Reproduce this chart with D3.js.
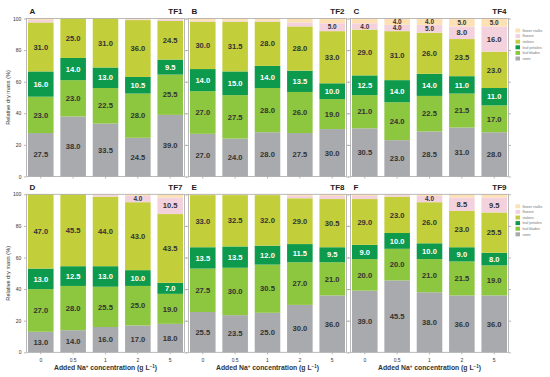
<!DOCTYPE html>
<html lang="en">
<head>
<meta charset="UTF-8">
<title>Relative dry mass</title>
<style>
  body { margin: 0; background: #fff; }
  svg { font-family: "Liberation Sans", Arial, sans-serif; }
  .frame { fill: none; stroke: #a9a9a9; stroke-width: 0.8px; }
  .tick line, .domain { stroke: #888; stroke-width: 0.6px; }
  .seg-label { font-weight: bold; text-anchor: middle; }
  .leg text { font-size: 3.6px; fill: #777; }
</style>
</head>
<body>
<script src="https://cdnjs.cloudflare.com/ajax/libs/d3/7.8.5/d3.min.js"></script>
<script>
// concentrations (g/L) on the x axis
var concentrations = ["0", "0.5", "1", "2", "5"];
var parts = ["roots", "leaf blades", "leaf petioles", "stolons", "flowers", "flower stalks"];
var partColors = ["#a8aaad", "#8dc63f", "#0e9a4c", "#c3cf3a", "#f3d2de", "#fde0b3"];

var panelNames = ["A", "B", "C", "D", "E", "F"];
var cultivars = ["TF1", "TF2", "TF4", "TF7", "TF8", "TF9"];

// each panel: one array per part (bottom to top), values per concentration
var tf1 = [
  [27.5, 38.0, 33.5, 24.5, 39.0],
  [23.0, 23.0, 22.5, 28.0, 25.5],
  [16.0, 14.0, 13.0, 10.5, 9.5],
  [31.0, 25.0, 31.0, 36.0, 24.5],
  [1.5, 0, 0, 0.5, 1.0],
  [1.0, 0, 0, 0.5, 0.5]
];
var tf2 = [
  [27.0, 24.0, 28.0, 27.5, 30.0],
  [27.0, 27.5, 28.0, 26.0, 19.0],
  [14.0, 15.0, 14.0, 13.5, 10.0],
  [30.0, 31.5, 28.0, 28.0, 33.0],
  [0.5, 0.5, 0.5, 2.5, 5.0],
  [1.5, 1.5, 1.5, 2.5, 3.0]
];
var tf4 = [
  [30.5, 23.0, 28.5, 31.0, 28.0],
  [21.0, 24.0, 22.5, 21.5, 17.0],
  [12.5, 14.0, 14.0, 11.0, 11.0],
  [29.0, 31.0, 26.0, 23.5, 23.0],
  [4.0, 4.0, 5.0, 8.0, 16.0],
  [3.0, 4.0, 4.0, 5.0, 5.0]
];
var tf7 = [
  [13.0, 14.0, 16.0, 17.0, 18.0],
  [27.0, 28.0, 25.5, 25.0, 19.0],
  [13.0, 12.5, 13.0, 10.0, 7.0],
  [47.0, 45.5, 44.0, 43.0, 43.5],
  [0, 0, 1.0, 4.0, 10.5],
  [0, 0, 0.5, 1.0, 2.0]
];
var tf8 = [
  [25.5, 23.5, 25.0, 30.0, 36.0],
  [27.5, 30.0, 30.5, 27.0, 21.0],
  [13.5, 13.5, 12.0, 11.5, 9.5],
  [33.0, 32.5, 32.0, 29.0, 30.5],
  [0, 0, 0, 1.5, 2.0],
  [0.5, 0.5, 0.5, 1.0, 1.0]
];
var tf9 = [
  [39.0, 45.5, 38.0, 36.0, 36.0],
  [20.0, 20.0, 21.0, 21.5, 19.0],
  [9.0, 10.0, 10.0, 9.0, 8.0],
  [29.0, 23.0, 26.0, 23.0, 25.5],
  [2.0, 1.0, 4.0, 8.5, 9.5],
  [1.0, 0.5, 1.0, 2.0, 2.0]
];
var panelData = [tf1, tf2, tf4, tf7, tf8, tf9];
var yTicks = [0, 20, 40, 60, 80, 100];

var W = 550, H = 377;
var panelW = 158, panelH = 158;
var panelLeft = [26.5, 188.5, 350.5];
var panelTop = [18.5, 194.3];

var svg = d3.select("body").append("svg")
  .attr("width", W).attr("height", H);

var x = d3.scaleBand().domain(concentrations)
  .range([1.5, panelW - 1.5]).paddingInner(0.21).paddingOuter(0);
var y = d3.scaleLinear().domain([0, 100]).range([panelH, 0]);

panelData.forEach(function(data, p) {
  var col = p % 3, row = Math.floor(p / 3);
  var g = svg.append("g")
    .attr("transform", "translate(" + panelLeft[col] + "," + panelTop[row] + ")");

  // rows of {conc, values...} for the stack
  var rows = concentrations.map(function(c, i) {
    var r = { conc: c };
    parts.forEach(function(part, k) { r[part] = data[k][i]; });
    return r;
  });
  var series = d3.stack().keys(parts)(rows);

  // axes: outward ticks both sides
  var left = g.append("g").call(d3.axisLeft(y).tickValues(yTicks).tickSize(2.5).tickFormat(col === 0 ? d3.format("d") : ""));
  left.select(".domain").remove();
  left.selectAll("text").attr("font-size", "5px").attr("fill", "#333").attr("dx", "0.4");
  var right = g.append("g").attr("transform", "translate(" + panelW + ",0)")
    .call(d3.axisRight(y).tickValues(yTicks).tickSize(2.5).tickFormat(""));
  right.select(".domain").remove();

  var bottom = g.append("g").attr("transform", "translate(0," + panelH + ")")
    .call(d3.axisBottom(x).tickSize(2).tickFormat(row === 1 ? null : ""));
  bottom.select(".domain").remove();
  bottom.selectAll("text").attr("font-size", "5px").attr("fill", "#333").attr("dy", "0.9em");

  g.selectAll(".layer").data(series).enter().append("g")
    .attr("fill", function(d, k) { return partColors[k]; })
    .selectAll("rect").data(function(d) { return d; }).enter().append("rect")
    .attr("x", function(d) { return x(d.data.conc); })
    .attr("width", x.bandwidth())
    .attr("y", function(d) { return y(d[1]); })
    .attr("height", function(d) { return Math.max(0, y(d[0]) - y(d[1])); });

  // value labels (only segments big enough), smaller type for thin ones
  series.forEach(function(s, k) {
    g.selectAll(".lab" + k).data(s.filter(function(d) { return d[1] - d[0] >= 4; }))
      .enter().append("text")
      .attr("class", "seg-label")
      .attr("font-size", function(d) { return d[1] - d[0] < 6 ? "6.4px" : "7.6px"; })
      .attr("x", function(d) { return x(d.data.conc) + x.bandwidth() / 2; })
      .attr("y", function(d) { return y((d[0] + d[1]) / 2) + (d[1] - d[0] < 6 ? 2.3 : 2.7); })
      .attr("fill", k === 2 ? "#fff" : "#333")
      .text(function(d) { return d3.format(".1f")(d[1] - d[0]); });
  });

  g.append("rect").attr("class", "frame")
    .attr("x", 0).attr("y", 0).attr("width", panelW).attr("height", panelH);

  g.append("text").attr("x", 3).attr("y", -4.5)
    .attr("font-size", "8px").attr("font-weight", "bold").attr("fill", "#222")
    .text(panelNames[p]);
  g.append("text").attr("x", panelW - 2).attr("y", -4.5).attr("text-anchor", "end")
    .attr("font-size", "8px").attr("font-weight", "bold").attr("fill", "#222")
    .text(cultivars[p]);

  if (col === 0) {
    g.append("text")
      .attr("transform", "translate(-17," + panelH / 2 + ") rotate(-90)")
      .attr("text-anchor", "middle").attr("font-size", "5.6px").attr("fill", "#333")
      .text("Relative dry mass (%)");
  }
  if (row === 1) {
    var t = g.append("text").attr("x", panelW / 2).attr("y", panelH + 18)
      .attr("text-anchor", "middle").attr("font-size", "6.8px").attr("font-weight", "bold").attr("fill", "#333");
    t.append("tspan").text("Added Na");
    t.append("tspan").attr("baseline-shift", "super").attr("font-size", "4.5px").text("+");
    t.append("tspan").text(" concentration (g L");
    t.append("tspan").attr("baseline-shift", "super").attr("font-size", "4.5px").text("\u22121");
    t.append("tspan").text(")");
  }

  // legend to the right of the last panel in each row
  if (col === 2) {
    var leg = g.append("g").attr("class", "leg")
      .attr("transform", "translate(" + (panelW + 7) + "," + 10 + ")");
    var order = parts.slice().reverse();
    order.forEach(function(part, i) {
      var k = parts.indexOf(part);
      leg.append("rect").attr("x", 0).attr("y", i * 5.6).attr("width", 4.5).attr("height", 4)
        .attr("fill", partColors[k]);
      leg.append("text").attr("x", 7).attr("y", i * 5.6 + 3.3).text(part);
    });
  }
});
</script>
</body>
</html>
